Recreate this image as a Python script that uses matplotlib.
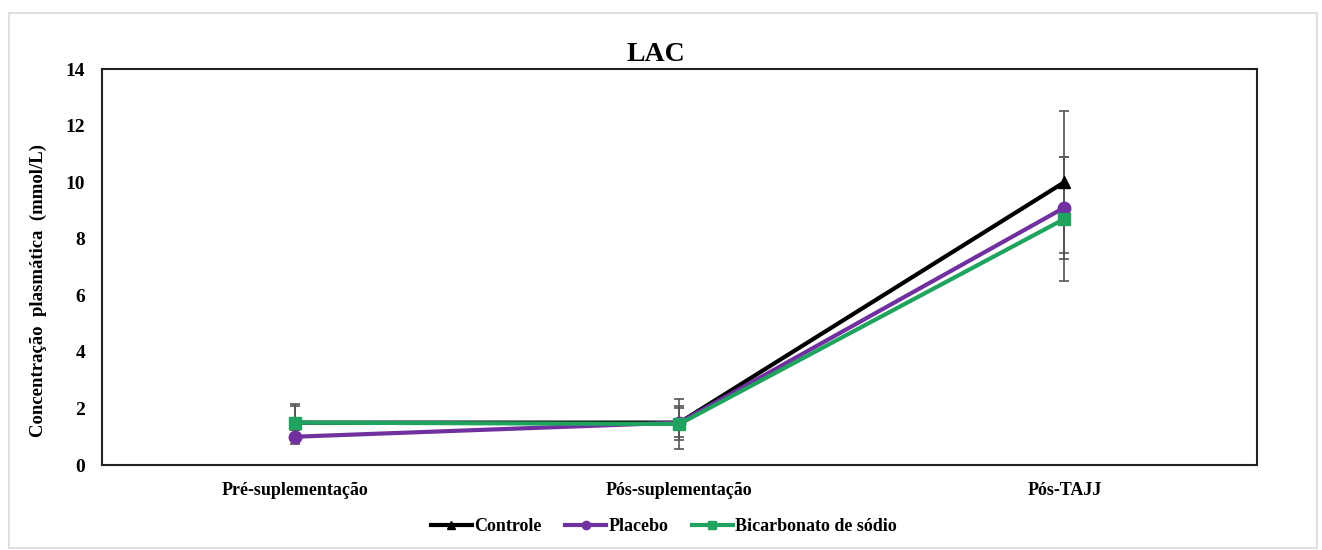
import matplotlib.pyplot as plt
from matplotlib.patches import Rectangle

plt.rcParams["font.family"] = ["Liberation Serif", "DejaVu Serif"]
plt.rcParams["font.weight"] = "bold"

stages = ["Pré-suplementação", "Pós-suplementação", "Pós-TAJJ"]

controle = [1.5, 1.5, 10.0]
controle_err = [0.65, 0.5, 2.5]
placebo = [1.0, 1.5, 9.1]
placebo_err = [0.25, 0.6, 1.8]
bicarbonato = [1.5, 1.45, 8.7]
bicarbonato_err = [0.6, 0.9, 2.2]

series = [
    ("Controle", controle, controle_err, "#000000", "^"),
    ("Placebo", placebo, placebo_err, "#7030A0", "o"),
    ("Bicarbonato de sódio", bicarbonato, bicarbonato_err, "#1FA35F", "s"),
]

fig = plt.figure(figsize=(13.22, 5.5), dpi=100)
ax = fig.add_axes([0.0772, 0.1545, 0.8735, 0.72])

# light frame around the whole chart area
fig.patches.append(
    Rectangle((9 / 1322, 2 / 550), 1308 / 1322, 535 / 550,
              transform=fig.transFigure, fill=False,
              edgecolor="#d9d9d9", linewidth=1.2)
)

x = list(range(len(stages)))
for name, vals, errs, color, marker in series:
    ax.errorbar(x, vals, yerr=errs, fmt="none", ecolor="#555555",
                elinewidth=1.2, capsize=3.5, capthick=1.2, zorder=2)
for name, vals, errs, color, marker in series:
    ax.plot(x, vals, color=color, linewidth=3.0, marker=marker,
            markersize=9, label=name, zorder=3)

ax.set_xlim(-0.5, 2.5)
ax.set_ylim(0, 14)
ax.set_yticks(range(0, 15, 2))
ax.set_xticks(x)
ax.set_xticklabels(stages)
ax.tick_params(axis="x", length=0, labelsize=13, pad=12)
ax.tick_params(axis="y", length=0, labelsize=14, pad=12)
for lbl in ax.get_xticklabels() + ax.get_yticklabels():
    lbl.set_fontweight("bold")
for sp in ax.spines.values():
    sp.set_linewidth(1.5)
    sp.set_color("#222222")

ax.set_ylabel("Concentração  plasmática  (mmol/L)", fontsize=13.5,
              fontweight="bold")
ax.yaxis.set_label_coords(-0.048, 0.44)
ax.set_title("LAC", fontsize=20, fontweight="bold", pad=6, x=0.48)

legend_marker_size = 6
handles, labels = ax.get_legend_handles_labels()
leg = fig.legend(handles, labels, loc="center", bbox_to_anchor=(0.502, 0.042),
                 ncol=3, frameon=False, handlelength=2.3, handletextpad=0.1,
                 columnspacing=1.3, markerscale=legend_marker_size / 9,
                 prop={"weight": "bold", "size": 13})

fig.savefig("out.png", dpi=100)
